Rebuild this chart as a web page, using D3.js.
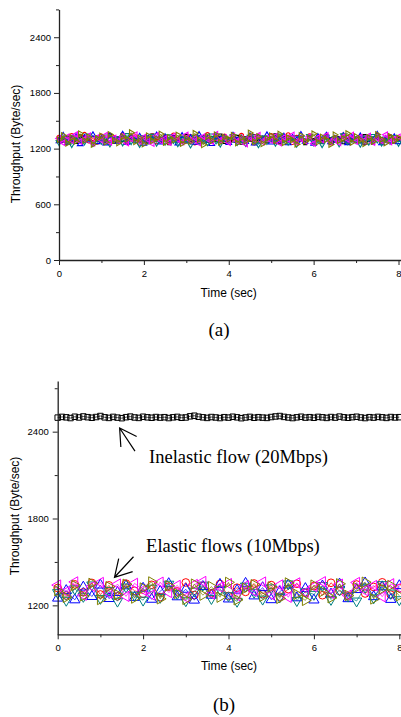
<!DOCTYPE html>
<html>
<head>
<meta charset="utf-8">
<script src="https://cdn.jsdelivr.net/npm/d3@7"></script>
<style>
  body { margin: 0; background: #fff; }
  svg { display: block; }
  .axis path, .axis line { stroke: #222; }
  .axis text { font-family: "Liberation Sans", Arial, sans-serif; font-size: 9.5px; fill: #000; }
  .title { font-family: "Liberation Sans", Arial, sans-serif; font-size: 12px; fill: #000; }
  .note { font-family: "Liberation Serif", "Times New Roman", serif; font-size: 18.5px; fill: #000; }
</style>
</head>
<body>
<div id="chart"></div>
<script>
// ---------- data (throughput in Byte/sec) ----------
// panel (a): all flows elastic, sampled every 0.1 s over 0..8 s
const topBlack = [1302,1285,1318,1296,1274,1331,1290,1308,1267,1322,1299,1281,1345,1276,1310,1293,1262,1327,1305,1288,1316,1271,1339,1297,1283,1312,1258,1324,1301,1279,1336,1292,1306,1269,1320,1287,1314,1295,1341,1273,1303,1289,1326,1264,1309,1298,1332,1277,1315,1284,1300,1343,1268,1311,1294,1323,1282,1305,1260,1329,1291,1317,1275,1338,1299,1286,1313,1270,1325,1296,1307,1280,1334,1292,1266,1319,1301,1288,1328,1279,1304];
const topRed = [1321,1296,1277,1340,1305,1289,1352,1283,1310,1271,1334,1298,1265,1318,1292,1347,1280,1303,1326,1259,1311,1287,1337,1274,1300,1322,1268,1345,1295,1308,1281,1329,1263,1316,1299,1350,1278,1306,1290,1333,1270,1314,1297,1342,1285,1309,1261,1325,1302,1288,1339,1276,1312,1294,1348,1267,1320,1301,1283,1336,1272,1307,1293,1330,1262,1318,1299,1344,1279,1311,1287,1326,1266,1315,1304,1341,1275,1297,1323,1284,1313];
const topBlue = [1282,1339,1263,1305,1327,1250,1316,1291,1346,1272,1308,1258,1333,1295,1277,1351,1264,1319,1286,1330,1255,1311,1298,1343,1269,1324,1281,1302,1257,1337,1290,1315,1266,1348,1279,1306,1252,1328,1294,1313,1262,1340,1287,1309,1274,1335,1256,1320,1299,1345,1268,1303,1283,1331,1260,1317,1292,1349,1275,1310,1254,1326,1296,1341,1270,1307,1285,1338,1261,1318,1289,1334,1267,1312,1293,1350,1259,1304,1280,1325,1271];
const topTeal = [1268,1315,1286,1247,1322,1294,1276,1338,1259,1305,1283,1329,1253,1311,1297,1265,1344,1279,1302,1248,1320,1288,1336,1262,1307,1274,1331,1291,1256,1318,1299,1243,1325,1281,1310,1267,1340,1285,1252,1314,1293,1334,1271,1302,1258,1327,1289,1245,1317,1280,1306,1261,1339,1295,1273,1321,1250,1312,1287,1333,1266,1298,1246,1326,1284,1309,1255,1342,1277,1303,1290,1251,1319,1272,1335,1296,1263,1308,1282,1324,1260];
const topMagenta = [1310,1264,1328,1289,1352,1276,1301,1337,1258,1319,1292,1344,1270,1313,1285,1331,1261,1306,1348,1279,1323,1296,1255,1340,1284,1309,1267,1335,1298,1272,1346,1288,1316,1260,1329,1303,1277,1354,1291,1318,1265,1338,1282,1307,1250,1325,1295,1343,1273,1312,1287,1334,1262,1320,1299,1347,1269,1305,1281,1330,1256,1316,1293,1341,1274,1308,1263,1327,1300,1345,1278,1321,1290,1336,1266,1311,1284,1349,1271,1304,1326];
const topOlive = [1296,1342,1258,1317,1279,1361,1287,1324,1246,1308,1335,1270,1353,1291,1262,1328,1301,1372,1275,1314,1249,1339,1284,1306,1357,1266,1320,1293,1346,1255,1311,1278,1365,1298,1241,1331,1286,1350,1269,1322,1303,1344,1260,1316,1283,1369,1274,1329,1252,1307,1337,1289,1356,1264,1318,1295,1247,1341,1280,1313,1360,1271,1325,1298,1244,1348,1285,1309,1363,1267,1330,1292,1254,1319,1277,1352,1300,1261,1334,1288,1315];

// panel (b): one inelastic flow (0.1 s samples) and five elastic flows (0.2 s samples)
const botInelastic = [2497,2502,2499,2494,2503,2498,2505,2500,2496,2501,2508,2499,2495,2502,2497,2493,2500,2504,2498,2495,2503,2499,2496,2501,2497,2500,2494,2499,2502,2496,2498,2506,2510,2503,2499,2495,2501,2498,2494,2500,2497,2503,2499,2493,2498,2502,2496,2500,2497,2495,2501,2505,2508,2502,2498,2494,2499,2503,2497,2500,2496,2502,2499,2495,2501,2497,2504,2499,2496,2500,2503,2498,2494,2500,2497,2502,2499,2495,2501,2498,2500];
const botRed = [1320,1268,1345,1290,1355,1275,1338,1262,1350,1301,1280,1342,1257,1329,1296,1358,1271,1335,1284,1347,1265,1322,1293,1351,1278,1340,1260,1312,1349,1287,1333,1270,1356,1299,1263,1344,1282,1327,1359,1274,1318];
const botBlue = [1250,1302,1238,1326,1261,1340,1247,1289,1335,1255,1318,1242,1297,1350,1259,1311,1236,1330,1270,1345,1244,1305,1352,1265,1322,1239,1294,1341,1252,1316,1237,1334,1278,1347,1246,1309,1355,1260,1328,1241,1336];
const botTeal = [1288,1235,1314,1262,1341,1248,1303,1229,1327,1270,1236,1319,1255,1346,1281,1232,1298,1340,1247,1310,1266,1228,1333,1290,1243,1321,1258,1348,1233,1295,1276,1337,1241,1306,1264,1230,1325,1252,1343,1285,1239];
const botMagenta = [1340,1295,1362,1270,1331,1358,1284,1347,1262,1352,1306,1272,1360,1289,1338,1255,1344,1365,1279,1326,1350,1267,1335,1298,1361,1274,1341,1256,1355,1291,1330,1363,1283,1346,1269,1358,1301,1337,1260,1349,1322];
const botOlive = [1300,1255,1338,1265,1352,1240,1329,1274,1346,1250,1320,1362,1245,1335,1282,1241,1347,1270,1330,1256,1359,1238,1318,1343,1262,1327,1248,1355,1276,1234,1340,1295,1252,1349,1268,1322,1360,1244,1314,1337,1266];

// axis ticks
const xMajor = [0, 2, 4, 6, 8];
const xMinor = [1, 3, 5, 7];
const topYMajor = [0, 600, 1200, 1800, 2400];
const topYMinor = [300, 900, 1500, 2100, 2700];
const botYMajor = [1200, 1800, 2400];
const botYMinor = [1500, 2100, 2700];

// annotations in data coordinates: [tipTime, tipValue, tailTime, tailValue]
const noteLabels = ["Inelastic flow (20Mbps)", "Elastic flows (10Mbps)"];
const noteTextPos = [[2.14, 2181], [2.07, 1569]];
const noteArrows = [[1.45, 2425, 1.81, 2266], [1.33, 1394, 1.775, 1536]];

// ---------- drawing ----------
const svg = d3.select("#chart").append("svg")
    .attr("width", 401)
    .attr("height", 717);

function seriesList(arrs) {
    // colour / symbol per flow, Origin style
    let styles = [
        {color: '#000000', sym: d3.symbolSquare, rot: 0},
        {color: '#ff0000', sym: d3.symbolCircle, rot: 0},
        {color: '#0000ff', sym: d3.symbolTriangle, rot: 0},
        {color: '#008080', sym: d3.symbolTriangle, rot: 180},
        {color: '#ff00ff', sym: d3.symbolTriangle, rot: -90},
        {color: '#808000', sym: d3.symbolTriangle, rot: 90}
    ];
    return arrs.map((a, i) => Object.assign({values: a}, styles[i]));
}

function drawPanel(opt) {
    let g = svg.append("g");

    let x = d3.scaleLinear().domain([0, 8]).range(opt.xRange);
    let y = d3.scaleLinear().domain(opt.yDomain).range(opt.yRange);

    // series: thin line + open symbol
    opt.series.forEach(s => {
        let step = 8 / (s.values.length - 1);
        let pts = s.values.map((v, i) => [i * step, v]);

        g.append("path")
            .datum(pts)
            .attr("fill", "none")
            .attr("stroke", s.color)
            .attr("stroke-width", opt.lineWidth)
            .attr("d", d3.line().x(d => x(d[0])).y(d => y(d[1])));

        let sym = d3.symbol().type(s.sym).size(s.sym === d3.symbolSquare ? opt.sqSize : opt.symSize);
        g.selectAll(null)
            .data(pts)
            .enter()
            .append("path")
            .attr("d", sym)
            .attr("transform", d => "translate(" + x(d[0]) + "," + y(d[1]) + ") rotate(" + s.rot + ")")
            .attr("fill", "none")
            .attr("stroke", s.color)
            .attr("stroke-width", opt.symStroke);
    });

    // axes
    let xAxis = g.append("g").attr("class", "axis")
        .attr("transform", "translate(0," + opt.yRange[0] + ")")
        .call(d3.axisBottom(x).tickValues(xMajor).tickSize(5).tickPadding(5).tickSizeOuter(0).tickFormat(d3.format("d")));
    g.append("g").attr("class", "axis")
        .attr("transform", "translate(0," + opt.yRange[0] + ")")
        .call(d3.axisBottom(x).tickValues(xMinor).tickSize(3).tickSizeOuter(0).tickFormat(""))
        .select(".domain").remove();
    xAxis.select(".domain").attr("stroke-width", 1.3)
        .attr("d", "M" + opt.xRange[0] + ",0.5H401");

    let yAxis = g.append("g").attr("class", "axis")
        .attr("transform", "translate(" + opt.xRange[0] + ",0)")
        .call(d3.axisLeft(y).tickValues(opt.yMajor).tickSize(5).tickPadding(opt.yPad).tickSizeOuter(0).tickFormat(d3.format("d")));
    g.append("g").attr("class", "axis")
        .attr("transform", "translate(" + opt.xRange[0] + ",0)")
        .call(d3.axisLeft(y).tickValues(opt.yMinor).tickSize(3).tickSizeOuter(0).tickFormat(""))
        .select(".domain").remove();
    yAxis.select(".domain").attr("stroke-width", 1.3);
    g.selectAll(".axis .tick line").attr("stroke-width", 1);

    // titles
    g.append("text").attr("class", "title")
        .attr("x", opt.xTitle[0]).attr("y", opt.xTitle[1])
        .attr("text-anchor", "middle")
        .text("Time (sec)");
    g.append("text").attr("class", "title")
        .attr("transform", "translate(" + opt.yTitle[0] + "," + opt.yTitle[1] + ") rotate(-90)")
        .attr("text-anchor", "middle")
        .text("Throughput (Byte/sec)");

    // panel caption
    g.append("text").attr("class", "note")
        .attr("x", opt.caption[0]).attr("y", opt.caption[1])
        .attr("text-anchor", "middle")
        .style("font-size", "19px")
        .text(opt.captionText);

    return {g: g, x: x, y: y};
}

drawPanel({
    xRange: [59, 398.5],
    yDomain: [0, 2700],
    yRange: [260, 9.4],
    yMajor: topYMajor,
    yMinor: topYMinor,
    yPad: 3,
    series: seriesList([topBlack, topRed, topBlue, topTeal, topMagenta, topOlive]),
    symSize: 14,
    sqSize: 10,
    lineWidth: 0.8,
    symStroke: 1.1,
    xTitle: [228.7, 297],
    yTitle: [19.5, 144],
    caption: [219, 335.5],
    captionText: "(a)"
});

let bot = drawPanel({
    xRange: [57.7, 399.3],
    yDomain: [1000, 2750],
    yRange: [634.3, 381],
    yMajor: botYMajor,
    yMinor: botYMinor,
    yPad: 4,
    series: seriesList([botInelastic, botRed, botBlue, botTeal, botMagenta, botOlive]),
    symSize: 46,
    sqSize: 30,
    lineWidth: 0.7,
    symStroke: 1,
    xTitle: [229, 670.3],
    yTitle: [19, 516],
    caption: [224, 710.5],
    captionText: "(b)"
});

// annotations for panel (b)
noteLabels.forEach((label, i) => {
    bot.g.append("text").attr("class", "note")
        .attr("x", bot.x(noteTextPos[i][0]))
        .attr("y", bot.y(noteTextPos[i][1]))
        .text(label);

    let a = noteArrows[i];
    let tx = bot.x(a[0]), ty = bot.y(a[1]);
    let ex = bot.x(a[2]), ey = bot.y(a[3]);
    let ang = Math.atan2(ey - ty, ex - tx);
    let headLen = 19, spread = Math.PI / 6;
    let p = d3.path();
    p.moveTo(ex, ey); p.lineTo(tx, ty);
    p.moveTo(tx + headLen * Math.cos(ang - spread), ty + headLen * Math.sin(ang - spread));
    p.lineTo(tx, ty);
    p.lineTo(tx + headLen * Math.cos(ang + spread), ty + headLen * Math.sin(ang + spread));
    bot.g.append("path")
        .attr("d", p.toString())
        .attr("fill", "none")
        .attr("stroke", "#000")
        .attr("stroke-width", 1.2);
});
</script>
</body>
</html>
